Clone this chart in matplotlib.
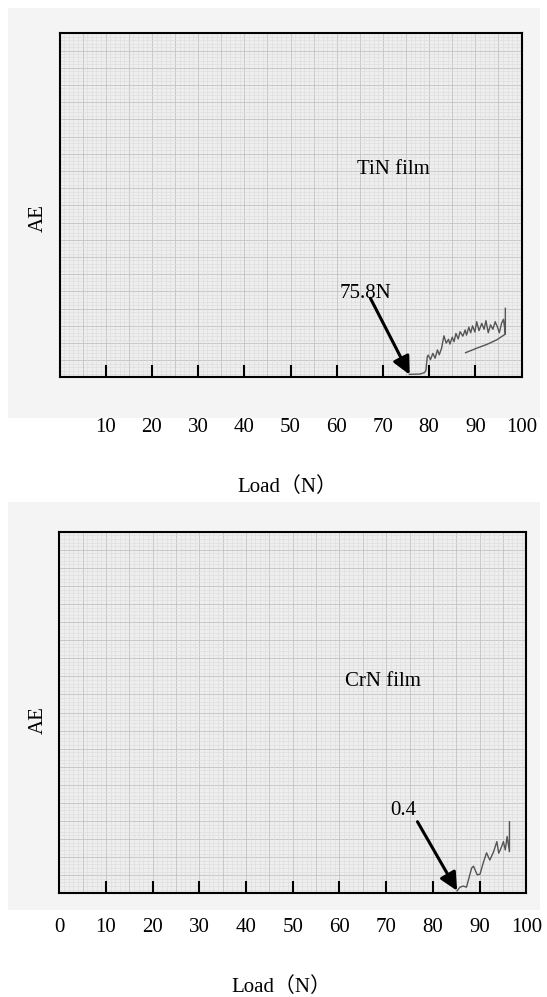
#!/usr/bin/env python3
'''
AE signal vs scratch load for TiN and CrN films (scanned chart remake).
'''

import matplotlib.pyplot as plt
import numpy as np
from matplotlib.patches import Rectangle

plt.rcParams['font.family'] = ['Liberation Serif', 'Noto Sans CJK SC']

# TiN trace (load in N, AE arbitrary 0-100)
tin_load = [75.7, 78.0, 79.0, 79.3, 79.6, 79.8, 80.3, 80.8, 81.3, 81.8, 82.2, 82.7,
            83.2, 83.7, 84.2, 84.5, 85.0, 85.4, 85.8, 86.3, 86.7, 87.3, 87.8, 88.1,
            88.6, 89.0, 89.4, 89.9, 90.3, 90.8, 91.4, 91.9, 92.3, 92.8, 93.3, 93.8,
            94.3, 94.8, 95.2, 95.7, 96.1, 96.3, 96.5, 96.5]
tin_ae = [0.9, 1.0, 1.4, 2.0, 6.0, 6.5, 5.2, 7.0, 5.6, 8.0, 6.6, 8.5,
          12.1, 10.0, 11.1, 9.7, 11.7, 10.4, 12.8, 11.2, 13.3, 12.0, 13.8, 12.3,
          14.6, 13.0, 15.0, 13.2, 16.2, 13.6, 15.7, 14.0, 16.5, 13.0, 15.3, 14.0,
          16.2, 14.6, 13.0, 15.8, 16.9, 14.8, 12.6, 20.1]
# lower envelope line drawn on the TiN record
tin_env_load = [87.9, 90.3, 92.5, 94.6, 96.4]
tin_env_ae = [7.2, 8.5, 9.6, 10.9, 12.5]

# CrN trace
crn_load = [85.2, 85.8, 86.5, 87.2, 87.8, 88.3, 88.7, 89.1, 89.5, 90.1, 90.8, 91.5,
            91.9, 92.2, 93.0, 93.7, 94.1, 94.6, 95.1, 95.5, 95.9, 96.4, 96.4]
crn_ae = [0.7, 1.7, 2.0, 1.7, 4.6, 7.0, 7.5, 6.3, 5.1, 5.3, 8.5, 11.2,
          10.0, 9.2, 11.5, 14.3, 11.1, 12.5, 14.3, 12.0, 15.7, 11.5, 19.8]

tin_ticks = [10, 20, 30, 40, 50, 60, 70, 80, 90, 100]
crn_ticks = [0, 10, 20, 30, 40, 50, 60, 70, 80, 90, 100]

tin_crit = 75.8
crn_crit = 85.2

fig = plt.figure(figsize=(5.47, 9.97), dpi=100)

# scanned paper background
for y0, h in [(0.5807, 0.4112), (0.0873, 0.4092)]:
    fig.patches.append(Rectangle((0.0146, y0), 0.9726, h, transform=fig.transFigure,
                                 facecolor='#f4f4f4', edgecolor='none', zorder=-10))


def graph_paper(ax):
    ax.set_facecolor('#eeeeee')
    for v in np.arange(1, 100):
        if v % 5 == 0:
            ax.axvline(v, color='#c2c2c2', lw=0.6, zorder=0)
            ax.axhline(v, color='#c2c2c2', lw=0.6, zorder=0)
        else:
            ax.axvline(v, color='#dcdcdc', lw=0.4, zorder=0)
            ax.axhline(v, color='#dcdcdc', lw=0.4, zorder=0)


def setup(ax, ticks, pad):
    ax.set_xlim(0, 100)
    ax.set_ylim(0, 100)
    graph_paper(ax)
    ax.set_xticks(ticks, [str(t) for t in ticks])
    ax.set_yticks([])
    ax.tick_params(axis='x', direction='in', length=8.6, width=1.5, pad=pad,
                   labelsize=15, color='black')
    for t, v in zip(ax.xaxis.get_major_ticks(), ticks):
        if v in (0, 100):
            t.tick1line.set_visible(False)
    for s in ax.spines.values():
        s.set_linewidth(1.5)
        s.set_color('black')


arrow = dict(arrowstyle='-|>,head_length=0.45,head_width=0.22', lw=2.2,
             color='black', mutation_scale=24, shrinkA=0, shrinkB=0)

# ---- TiN ----
ax1 = fig.add_axes([0.1088, 0.6214, 0.8446, 0.3452])
setup(ax1, tin_ticks, 29)
ax1.plot(tin_load, tin_ae, color='#555555', lw=1.0, zorder=3)
ax1.plot(tin_env_load, tin_env_ae, color='#555555', lw=1.0, zorder=3)
ax1.text(72.3, 60.3, 'TiN film', fontsize=15, ha='center', va='center')
ax1.text(66.3, 24.5, '%.1fN' % tin_crit, fontsize=15, ha='center', va='center')
ax1.annotate('', xy=(tin_crit, 0.8), xytext=(67.3, 23), arrowprops=arrow, zorder=4)
ax1.text(-0.046, 0.463, 'AE', fontsize=15, rotation=90, ha='center', va='center',
         transform=ax1.transAxes)
ax1.text(0.492, -0.318, 'Load（N）', fontsize=15, ha='center', va='center',
         transform=ax1.transAxes)

# ---- CrN ----
ax2 = fig.add_axes([0.1084, 0.1040, 0.8537, 0.3627])
setup(ax2, crn_ticks, 18)
ax2.plot(crn_load, crn_ae, color='#555555', lw=1.0, zorder=3)
ax2.text(69.3, 58.5, 'CrN film', fontsize=15, ha='center', va='center')
ax2.text(73.7, 22.8, '0.4', fontsize=15, ha='center', va='center')
ax2.annotate('', xy=(crn_crit, 0.7), xytext=(76.7, 19.8), arrowprops=arrow, zorder=4)
ax2.text(-0.045, 0.479, 'AE', fontsize=15, rotation=90, ha='center', va='center',
         transform=ax2.transAxes)
ax2.text(0.475, -0.258, 'Load（N）', fontsize=15, ha='center', va='center',
         transform=ax2.transAxes)

fig.savefig('out.png', dpi=100)
